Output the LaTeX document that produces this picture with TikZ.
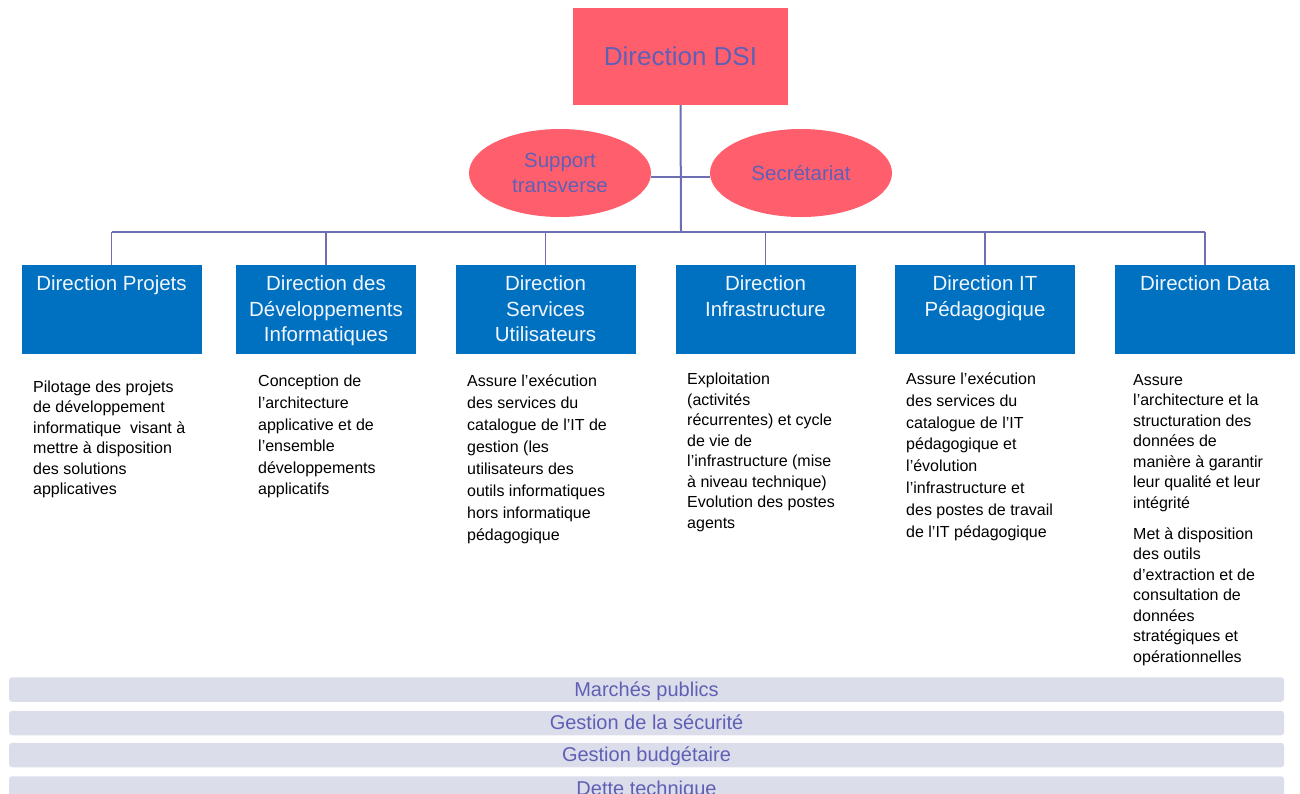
\documentclass[tikz,border=0pt]{standalone}
\usepackage{fontspec}
\setmainfont{Liberation Sans}
\usetikzlibrary{shapes.geometric}
\definecolor{pinkc}{HTML}{FF5F6D}
\definecolor{purp}{HTML}{5F5FB5}
\definecolor{linec}{HTML}{6E6EB2}
\definecolor{bluec}{HTML}{0070C0}
\definecolor{barc}{HTML}{DCDDEB}
\definecolor{boxtxt}{HTML}{F2F6FF}
\tikzset{
  dsibox/.style={fill=pinkc, draw=none, minimum width=215pt, minimum height=97pt, inner sep=0pt,
    text=purp, font=\fontsize{26}{30}\selectfont},
  oval/.style={ellipse, fill=pinkc, draw=none, minimum width=182pt, minimum height=88pt, inner sep=0pt,
    text=purp, align=center, font=\fontsize{20.5}{25}\selectfont},
  bluebox/.style={fill=bluec, draw=none, minimum width=180pt, minimum height=89pt, inner sep=0pt},
  bluetxt/.style={text=boxtxt, align=center, inner sep=0pt, anchor=north, font=\fontsize{20.5}{25.5}\selectfont},
  desc/.style={anchor=north west, align=left, inner sep=0pt, text=black, font=\fontsize{16}{20.5}\selectfont},
  descw/.style={desc, font=\fontsize{16}{21.8}\selectfont},
  barbox/.style={fill=barc, draw=none, rounded corners=3pt, minimum width=1275pt, minimum height=24.5pt, inner sep=0pt,
    text height=17pt, text depth=4pt, text=purp, font=\fontsize{20}{24}\selectfont},
  conn/.style={draw=linec, line width=2pt},
}
\begin{document}
\begin{tikzpicture}[x=1pt, y=-1pt]
\useasboundingbox (0,0) rectangle (1300,793);
\clip (0,0) rectangle (1300,793);
% top
\node[dsibox] (dsi) at (680.5,56.5) {Direction DSI};
\node[oval] (sup) at (560,173) {Support\\transverse};
\node[oval] (sec) at (801,173) {Secrétariat};
\coordinate (bus) at (681,232);
\coordinate (busL) at (111.5,232);
\coordinate (busR) at (1205,232);
% blue boxes
\node[bluebox] (b1) at (111.5,309.5) {};
\node[bluebox] (b2) at (326,309.5) {};
\node[bluebox] (b3) at (545.5,309.5) {};
\node[bluebox] (b4) at (765.5,309.5) {};
\node[bluebox] (b5) at (985,309.5) {};
\node[bluebox] (b6) at (1205,309.5) {};
\node[bluetxt] (t1) at ([yshift=-11pt]b1.north) {Direction Projets};
\node[bluetxt] (t2) at ([yshift=-11pt]b2.north) {Direction des\\Développements\\Informatiques};
\node[bluetxt] (t3) at ([yshift=-11pt]b3.north) {Direction\\Services\\Utilisateurs};
\node[bluetxt] (t4) at ([yshift=-11pt]b4.north) {Direction\\Infrastructure};
\node[bluetxt] (t5) at ([yshift=-11pt]b5.north) {Direction IT\\Pédagogique};
\node[bluetxt] (t6) at ([yshift=-11pt]b6.north) {Direction Data};
% connectors
\draw[conn] (dsi.south) -- (bus);
\draw[conn, line width=1.6pt] ([yshift=-4pt]sup.east) -- ([yshift=-4pt]sec.west);
\draw[conn] (busL) -- (busR);
\foreach \b in {b1,b2,b3,b4,b5,b6}{
  \draw[conn, line width=1.6pt] (\b.north |- bus) -- (\b.north);
}
% descriptions
\node[desc] (d1) at (33,380.5) {Pilotage des projets\\de développement\\informatique\ \ visant à\\mettre à disposition\\des solutions\\applicatives};
\node[desc, font=\fontsize{16}{21.6}\selectfont] (d2) at (258,375) {Conception de\\l’architecture\\applicative et de\\l’ensemble\\développements\\applicatifs};
\node[descw, font=\fontsize{16}{22}\selectfont] (d3) at (467,375) {Assure l’exécution\\des services du\\catalogue de l’IT de\\gestion (les\\utilisateurs des\\outils informatiques\\hors informatique\\pédagogique};
\node[desc] (d4) at (687,373) {Exploitation\\(activités\\récurrentes) et cycle\\de vie de\\l’infrastructure (mise\\à niveau technique)\\Evolution des postes\\agents};
\node[descw] (d5) at (906,372.5) {Assure l’exécution\\des services du\\catalogue de l’IT\\pédagogique et\\l’évolution\\l’infrastructure et\\des postes de travail\\de l’IT pédagogique};
\node[desc] (d6) at (1133,374) {Assure\\l’architecture et la\\structuration des\\données de\\manière à garantir\\leur qualité et leur\\intégrité\\[10.5pt]Met à disposition\\des outils\\d’extraction et de\\consultation de\\données\\stratégiques et\\opérationnelles};
% bars
\node[barbox] (m1) at (646.5,689.5) {Marchés publics};
\node[barbox] (m2) at (646.5,723) {Gestion de la sécurité};
\node[barbox] (m3) at (646.5,755) {Gestion budgétaire};
\node[barbox] (m4) at (646.5,788.5) {Dette technique};
\end{tikzpicture}
\end{document}
